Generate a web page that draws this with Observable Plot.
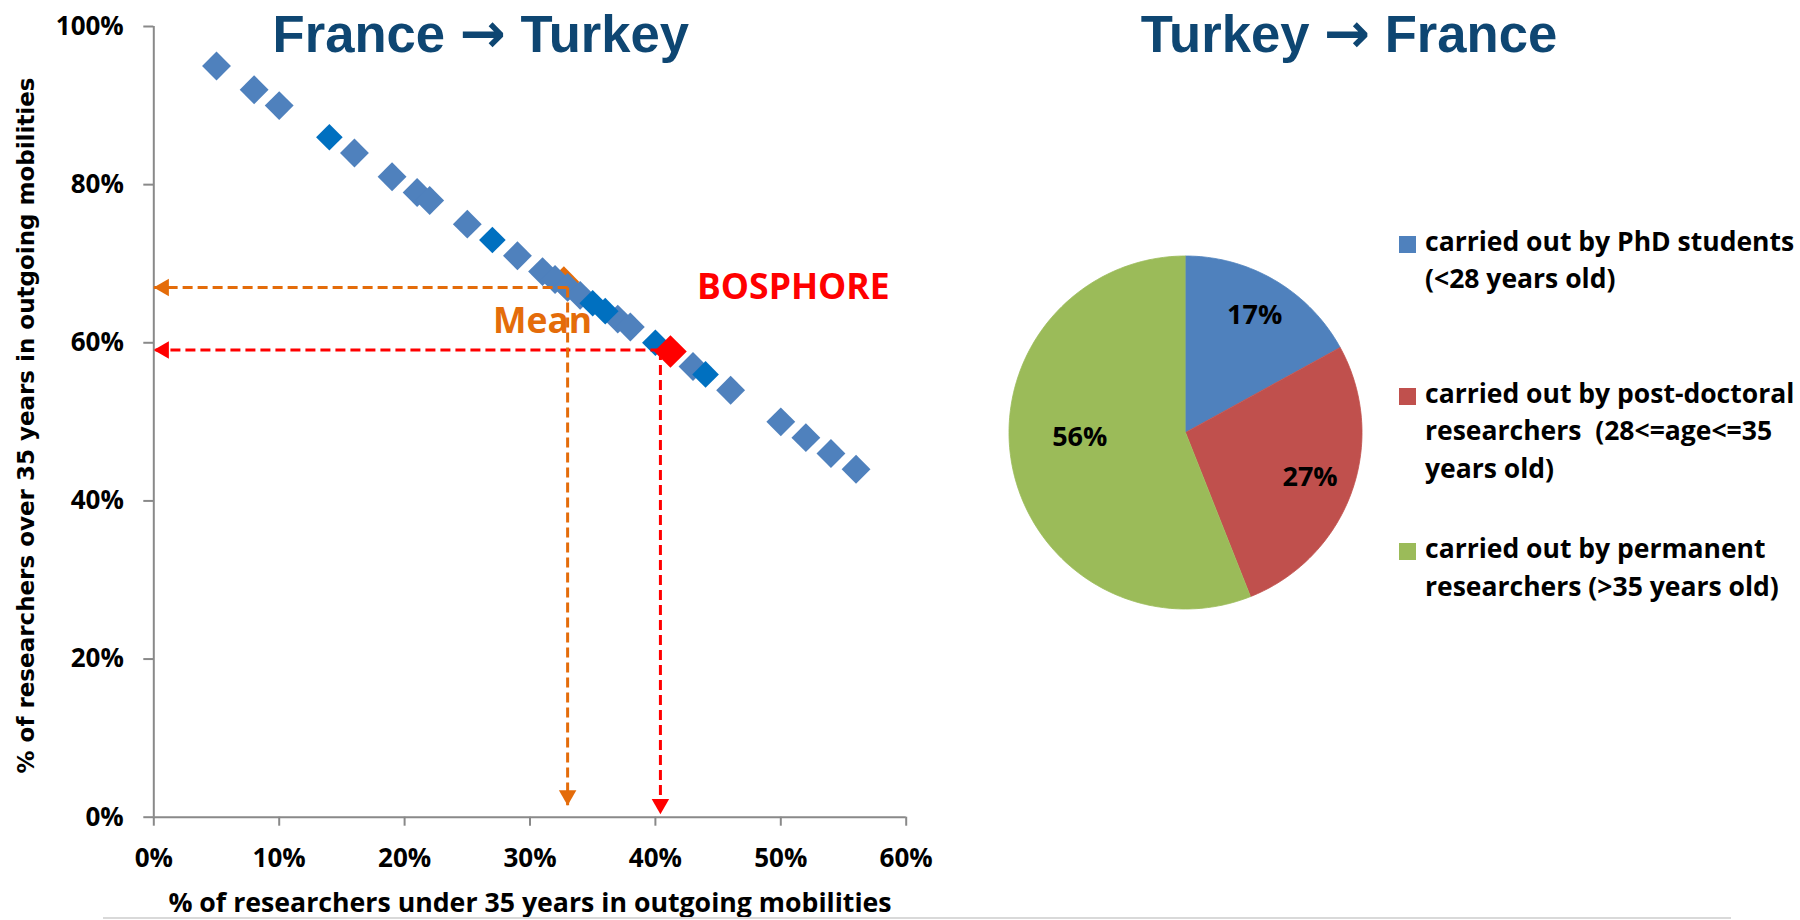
<!DOCTYPE html>
<html>
<head>
<meta charset="utf-8">
<script src="https://cdn.jsdelivr.net/npm/d3@7"></script>
<script src="https://cdn.jsdelivr.net/npm/@observablehq/plot@0.6"></script>
<style>
  html, body { margin: 0; padding: 0; background: #fff; overflow: hidden; }
  #root { position: relative; width: 1800px; height: 920px; }
  .abs { position: absolute; white-space: pre; }
  .title { font-family: "Liberation Sans", Arial, sans-serif; font-weight: bold; font-size: 52.6px; line-height: 1; color: #0E4672; text-align: center; width: 600px; }
  .title .arr { font-family: "DejaVu Sans", sans-serif; font-weight: bold; font-size: 55px; line-height: 45px; }
  .leg { font-family: "Open Sans", sans-serif; font-weight: bold; font-size: 26.5px; line-height: 1; color: #000; }
  .sw { position: absolute; width: 17px; height: 17px; }
</style>
</head>
<body>
<div id="root"></div>
<script>
// ---------------- data ----------------
// France -> Turkey : % under 35 (x) vs % over 35 (y)
const under35 = [5, 8, 10, 16, 19, 21, 22, 25, 29, 31, 32, 33, 34, 37, 38, 43, 46, 50, 52, 54, 56];
const over35  = [95, 92, 90, 84, 81, 79, 78, 75, 71, 69, 68, 67, 66, 63, 62, 57, 54, 50, 48, 46, 44];
const under35Dark = [14, 27, 35, 36, 40, 44];
const over35Dark  = [86, 73, 65, 64, 60, 56];
const meanMarkerXY = [32.7, 67.7];
const meanXY = [33, 67];
const meanArrowEndY = 1.5;
const bosphoreMarkerXY = [41.2, 58.9];
const bosphoreXY = [40.4, 59.1];
const bosphoreArrowEndY = 0.4;
const annotationLabels = ["Mean", "BOSPHORE"];
const annotationX = [31.0, 51.0];
const annotationY = [62.7, 67.0];
const xTicks = [0, 10, 20, 30, 40, 50, 60];
const yTicks = [0, 20, 40, 60, 80, 100];
const xTitle = "% of researchers under 35 years in outgoing mobilities";
const yTitle = "% of researchers over 35 years in outgoing mobilities";

// Turkey -> France pie
const pieCategories = [
  ["carried out by PhD students", "(<28 years old)"],
  ["carried out by post-doctoral", "researchers  (28<=age<=35", "years old)"],
  ["carried out by permanent", "researchers (>35 years old)"]
];
const pieShares = [17, 27, 56];
const titleParts = [["France", "Turkey"], ["Turkey", "France"]];

// ---------------- styles ----------------
const LIGHT = "#4F81BD", DARK = "#0070C0", ORANGE = "#E46C0A", RED = "#FF0000", AXIS = "#898989";
const pieColors = ["#4F81BD", "#C0504D", "#9BBB59"];
const calibri = "'Open Sans', Lato, sans-serif";

const root = document.getElementById("root");

// ---------------- scatter ----------------
const pts = under35.map((x, i) => ({x, y: over35[i]}));
const ptsDark = under35Dark.map((x, i) => ({x, y: over35Dark[i]}));
const refLines = [
  {x: meanXY[0], y: meanXY[1], yEnd: meanArrowEndY, color: ORANGE},
  {x: bosphoreXY[0], y: bosphoreXY[1], yEnd: bosphoreArrowEndY, color: RED}
];
const annos = annotationLabels.map((t, i) => ({t, x: annotationX[i], y: annotationY[i], color: i === 0 ? ORANGE : RED}));

const scatter = Plot.plot({
  width: 930, height: 920,
  marginLeft: 153.3, marginRight: 24.3, marginTop: 26, marginBottom: 103.3,
  x: {domain: [0, 60]},
  y: {domain: [0, 100]},
  style: {background: "transparent", overflow: "visible"},
  marks: [
    Plot.axisY(yTicks, {tickSize: 10, tickPadding: 20, tickFormat: d => d + "%", fontSize: 26, fontWeight: "bold", fontFamily: calibri, stroke: AXIS, strokeWidth: 2, fill: "black", label: null}),
    Plot.axisX(xTicks, {tickSize: 9, tickPadding: 22, tickFormat: d => d + "%", fontSize: 26, fontWeight: "bold", fontFamily: calibri, stroke: AXIS, strokeWidth: 2, fill: "black", label: null}),
    Plot.ruleX([0], {stroke: AXIS, strokeWidth: 2}),
    Plot.ruleY([0], {stroke: AXIS, strokeWidth: 2}),
    Plot.dot([meanMarkerXY], {x: d => d[0], y: d => d[1], symbol: "diamond2", r: 14, fill: ORANGE}),
    Plot.dot(pts, {x: "x", y: "y", symbol: "diamond2", r: 13, fill: LIGHT}),
    Plot.dot(ptsDark, {x: "x", y: "y", symbol: "diamond2", r: 12, fill: DARK}),
    Plot.dot([bosphoreMarkerXY], {x: d => d[0], y: d => d[1], symbol: "diamond2", r: 14.7, fill: RED}),
    // horizontal dashed reference lines
    Plot.link(refLines, {x1: "x", y1: "y", x2: 0, y2: "y", stroke: "color", strokeWidth: 3, strokeDasharray: "10,5"}),
    // vertical dashed reference lines
    Plot.link(refLines, {x1: "x", y1: "y", x2: "x", y2: "yEnd", stroke: "color", strokeWidth: 3, strokeDasharray: "10,5"}),
    // arrow heads
    Plot.dot(refLines, {x: 0, y: "y", symbol: "triangle", r: 6.5, rotate: -90, dx: 10, fill: "color"}),
    Plot.dot(refLines, {x: "x", y: "yEnd", symbol: "triangle", r: 6.5, rotate: 180, dy: -10, fill: "color"}),
    Plot.text(annos, {x: "x", y: "y", text: "t", fill: "color", fontSize: 35.5, fontWeight: "bold", fontFamily: calibri}),
    Plot.text([xTitle], {frameAnchor: "bottom", lineAnchor: "middle", textAnchor: "middle", dy: 86, fontSize: 26.7, fontWeight: "bold", fontFamily: calibri, fill: "black"}),
    Plot.text([yTitle], {frameAnchor: "left", lineAnchor: "middle", textAnchor: "middle", rotate: -90, dx: -126.8, dy: 3.6, fontSize: 23, fontWeight: "bold", fontFamily: "'DejaVu Sans', Verdana, sans-serif", fill: "black"})
  ]
});
scatter.style.position = "absolute";
scatter.style.left = "0px";
scatter.style.top = "0px";
root.appendChild(scatter);

// ---------------- pie ----------------
const R = 176.5, W = 400;
const slices = [];
const labels = [];
const labelRadius = [0.77, 0.75, 0.6];
const labelAngleShift = [0, 0, 8]; // degrees, best-fit placement
let acc = 0;
pieShares.forEach((v, i) => {
  const a0 = acc / 100 * 2 * Math.PI, a1 = (acc + v) / 100 * 2 * Math.PI;
  slices.push({cat: i, x: 0, y: 0});
  const n = Math.max(4, Math.ceil(v * 3));
  for (let k = 0; k <= n; k++) {
    const a = a0 + (a1 - a0) * k / n;
    slices.push({cat: i, x: Math.sin(a), y: Math.cos(a)});
  }
  const am = (a0 + a1) / 2 + labelAngleShift[i] * Math.PI / 180;
  labels.push({t: v + "%", x: Math.sin(am) * labelRadius[i], y: Math.cos(am) * labelRadius[i]});
  acc += v;
});

const pie = Plot.plot({
  width: W, height: W,
  margin: 0,
  x: {domain: [-1, 1], range: [W / 2 - R, W / 2 + R], axis: null},
  y: {domain: [-1, 1], range: [W / 2 + R, W / 2 - R], axis: null},
  style: {background: "transparent", overflow: "visible"},
  marks: [
    Plot.line(slices, {x: "x", y: "y", z: "cat", fill: d => pieColors[d.cat], stroke: d => pieColors[d.cat], strokeWidth: 0.8}),
    Plot.text(labels, {x: "x", y: "y", text: "t", fontSize: 27, fontWeight: "bold", fontFamily: calibri, fill: "black"})
  ]
});
pie.style.position = "absolute";
pie.style.left = (1184.5 - W / 2) + "px";
pie.style.top = (431.5 - W / 2) + "px";
root.appendChild(pie);

// ---------------- titles ----------------
const titleCenters = [480.8, 1349];
titleParts.forEach((parts, i) => {
  const d = document.createElement("div");
  d.className = "abs title";
  const a = document.createElement("span"); a.textContent = parts[0] + " ";
  const arr = document.createElement("span"); arr.className = "arr"; arr.textContent = "\u2192";
  const b = document.createElement("span"); b.textContent = " " + parts[1];
  d.append(a, arr, b);
  d.style.left = (titleCenters[i] - 300) + "px";
  d.style.top = "7.5px";
  root.appendChild(d);
});

// ---------------- legend ----------------
const legendLineCenters = [[244, 281], [396, 433, 471], [551, 589]];
pieCategories.forEach((lines, i) => {
  const sw = document.createElement("div");
  sw.className = "sw";
  sw.style.background = pieColors[i];
  sw.style.left = "1399px";
  sw.style.top = (legendLineCenters[i][0] - 8.5) + "px";
  root.appendChild(sw);
  lines.forEach((ln, j) => {
    const d = document.createElement("div");
    d.className = "abs leg";
    d.textContent = ln;
    d.style.left = "1425px";
    d.style.top = (legendLineCenters[i][j] - 16.5) + "px";
    root.appendChild(d);
  });
});

// bottom separator
const sep = document.createElement("div");
sep.className = "abs";
sep.style.left = "103px"; sep.style.top = "917px"; sep.style.width = "1628px"; sep.style.height = "2px"; sep.style.background = "#D9D9D9";
root.appendChild(sep);
</script>
</body>
</html>
